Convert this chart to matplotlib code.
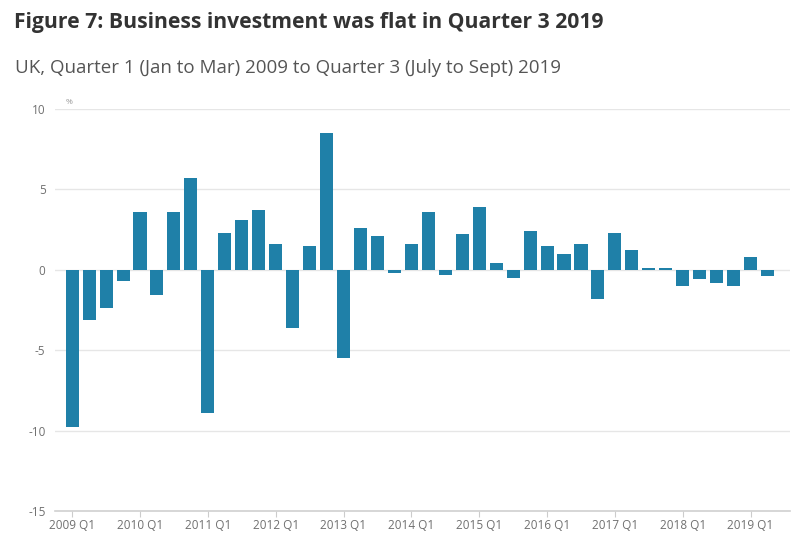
import numpy as np
import matplotlib.pyplot as plt

plt.rcParams['font.family'] = ['Open Sans', 'DejaVu Sans']

# quarterly growth in business investment, %, 2009 Q1 .. 2019 Q3
values = [-9.8, -3.1, -2.4, -0.7,
          3.6, -1.6, 3.6, 5.7,
          -8.9, 2.3, 3.1, 3.7,
          1.6, -3.6, 1.5, 8.5,
          -5.5, 2.6, 2.1, -0.2,
          1.6, 3.6, -0.3, 2.2,
          3.9, 0.4, -0.5, 2.4,
          1.5, 1.0, 1.6, -1.8,
          2.3, 1.2, 0.1, 0.1,
          -1.0, -0.6, -0.8, -1.0,
          0.8, -0.4, 0.0]
years = list(range(2009, 2020))
tick_labels = [f"{y} Q1" for y in years]

bar_color = '#1f80a8'
grid_color = '#e6e6e6'
text_grey = '#707070'

fig = plt.figure(figsize=(8, 5.56), dpi=100)
ax = fig.add_axes([0.069, 0.081, 0.918, 0.723])

x = np.arange(len(values))
ax.bar(x, values, width=0.77, color=bar_color, zorder=3)

ax.set_ylim(-15, 10)
ax.set_xlim(-1.0, 42.3)
ax.set_yticks([10, 5, 0, -5, -10, -15])
ax.set_yticklabels(['10', '5', '0', '-5', '-10', '-15'])
ax.set_xticks(np.arange(0, len(values), 4))
ax.set_xticklabels(tick_labels)

ax.grid(axis='y', color=grid_color, linewidth=1, zorder=0)
for s in ['top', 'right', 'left']:
    ax.spines[s].set_visible(False)
ax.spines['bottom'].set_color('#d0d0d0')
ax.spines['bottom'].set_linewidth(1.2)

ax.tick_params(axis='y', length=0, pad=7, labelsize=8.5, labelcolor=text_grey)
ax.tick_params(axis='x', length=4, color='#cccccc', pad=2, labelsize=8.5,
               labelcolor=text_grey)

ax.text(-0.4, 10.2, '%', fontsize=6, color='#999999', va='bottom')

fig.text(0.017, 0.96, 'Figure 7: Business investment was flat in Quarter 3 2019',
         fontsize=15.2, fontweight='bold', color='#333333', va='center')
fig.text(0.019, 0.877, 'UK, Quarter 1 (Jan to Mar) 2009 to Quarter 3 (July to Sept) 2019',
         fontsize=13.5, color='#555555', va='center')

fig.savefig('out.png', dpi=100, facecolor='white')
